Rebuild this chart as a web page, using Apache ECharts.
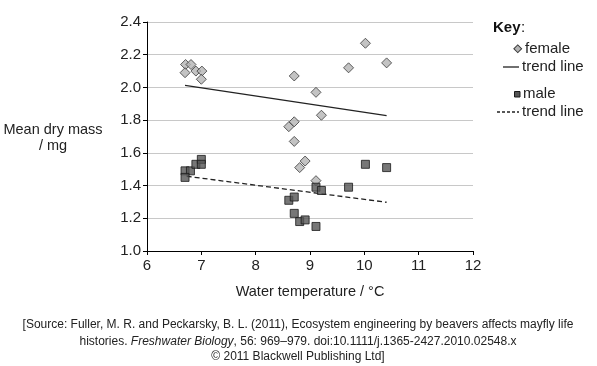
<!DOCTYPE html>
<html><head><meta charset="utf-8">
<script src="https://cdn.jsdelivr.net/npm/echarts@6/dist/echarts.min.js"></script>
<style>html,body{margin:0;padding:0;background:#fff}#c{width:597px;height:366px}</style>
</head><body><div id="c"></div>
<script>
var femaleData = [
  [6.71,2.14],[6.81,2.14],[6.70,2.09],[6.90,2.10],[7.01,2.10],[7.00,2.05],
  [8.71,2.07],[9.11,1.97],[9.21,1.83],[9.71,2.12],[10.02,2.27],[10.41,2.15],
  [8.61,1.76],[8.71,1.79],[8.71,1.67],[8.91,1.55],[8.81,1.51],[9.11,1.43]
];
var maleData = [
  [6.70,1.49],[6.80,1.49],[6.70,1.45],[6.90,1.53],[7.00,1.56],[7.00,1.53],
  [8.61,1.31],[8.71,1.33],[8.71,1.23],[8.81,1.18],[8.91,1.19],[9.11,1.15],
  [9.11,1.39],[9.21,1.37],[9.71,1.39],[10.02,1.53],[10.41,1.51]
];
var femaleTrend = [[6.70,2.013],[10.41,1.828]];
var maleTrend = [[6.73,1.457],[10.41,1.298]];
var xTicks = [6,7,8,9,10,11,12];
var yTicks = [1.0,1.2,1.4,1.6,1.8,2.0,2.2,2.4];
var keyLabels = ['Key',':','female','trend line','male','trend line'];
var yTitle = ['Mean dry mass','/ mg'];
var xTitle = 'Water temperature / \u00B0C';
var sourceLines = [
  '[Source: Fuller, M. R. and Peckarsky, B. L. (2011), Ecosystem engineering by beavers affects mayfly life',
  'histories. ', 'Freshwater Biology', ', 56: 969\u2013979. doi:10.1111/j.1365-2427.2010.02548.x',
  '\u00A9 2011 Blackwell Publishing Ltd]'
];

var F = 'Arial, "Liberation Sans", sans-serif';
var C = '#222';
function txt(x, y, s, extra) {
  var st = {text:s, fontFamily:F, fontSize:15, fill:C, verticalAlign:'middle'};
  for (var k in extra) st[k] = extra[k];
  return {type:'text', x:x, y:y, style:st};
}
var chart = echarts.init(document.getElementById('c'), null, {renderer:'canvas'});
chart.setOption({
  animation:false,
  backgroundColor:'#fff',
  grid:{left:147,right:124,top:22,bottom:115,containLabel:false},
  xAxis:{type:'value',min:xTicks[0],max:xTicks[xTicks.length-1],interval:1,
    axisLine:{show:true,lineStyle:{color:'#000',width:1}},
    axisTick:{show:true,length:4,lineStyle:{color:'#000'}},
    splitLine:{show:false},
    axisLabel:{color:C,fontFamily:F,fontSize:15,margin:7},
    name:xTitle,nameLocation:'middle',nameGap:33,
    nameTextStyle:{color:C,fontFamily:F,fontSize:14.5}
  },
  yAxis:{type:'value',min:yTicks[0],max:yTicks[yTicks.length-1],interval:0.2,
    axisLine:{show:true,onZero:false,lineStyle:{color:'#000',width:1}},
    axisTick:{show:true,length:4,lineStyle:{color:'#000'}},
    splitLine:{show:true,lineStyle:{color:'#c8c8c8',width:1}},
    axisLabel:{color:C,fontFamily:F,fontSize:15,margin:6,
      formatter:function(v){return v.toFixed(1);}}
  },
  series:[
    {type:'scatter',data:femaleData,symbol:'diamond',symbolSize:[10,10],
      itemStyle:{color:'#b4b4b4',borderColor:'#3a3a3a',borderWidth:1},z:3},
    {type:'scatter',data:maleData,symbol:'rect',symbolSize:[8,8],
      itemStyle:{color:'#555',borderColor:'#1a1a1a',borderWidth:1},z:4},
    {type:'line',data:femaleTrend,symbol:'none',
      lineStyle:{color:'#222',width:1.3,type:'solid'},z:2},
    {type:'line',data:maleTrend,symbol:'none',
      lineStyle:{color:'#222',width:1.3,type:[5,3]},z:2}
  ],
  graphic:[
    txt(53,130,yTitle[0],{align:'center',fontSize:14.5}),
    txt(53,146,yTitle[1],{align:'center',fontSize:14.5}),
    txt(493,28,keyLabels[0],{fontWeight:'bold',fill:'#111'}),
    txt(521,28,keyLabels[1],{fill:'#111'}),
    {type:'rect',shape:{x:515,y:46,width:5.5,height:5.5},rotation:Math.PI/4,originX:517.75,originY:48.75,style:{fill:'#b4b4b4',stroke:'#3a3a3a',lineWidth:1}},
    txt(525,49,keyLabels[2]),
    {type:'line',shape:{x1:503,y1:67,x2:519,y2:67},style:{stroke:'#222',lineWidth:1.3}},
    txt(522,67,keyLabels[3]),
    {type:'rect',shape:{x:514.5,y:91.5,width:5.5,height:5.5},style:{fill:'#555',stroke:'#1a1a1a',lineWidth:1}},
    txt(523,94,keyLabels[4]),
    {type:'line',shape:{x1:497,y1:112,x2:519,y2:112},style:{stroke:'#222',lineWidth:1.3,lineDash:[3,2]}},
    txt(522,112,keyLabels[5]),
    txt(298,325,sourceLines[0],{align:'center',fontSize:12}),
    {type:'text',x:298,y:341.5,style:{align:'center',verticalAlign:'middle',fontFamily:F,fontSize:12,fill:C,
      text:'{n|'+sourceLines[1]+'}{i|'+sourceLines[2]+'}{n|'+sourceLines[3]+'}',
      rich:{n:{fontFamily:F,fontSize:12,fill:C},i:{fontFamily:F,fontSize:12,fontStyle:'italic',fill:C}}}},
    txt(298,357,sourceLines[4],{align:'center',fontSize:12})
  ]
});
</script></body></html>
